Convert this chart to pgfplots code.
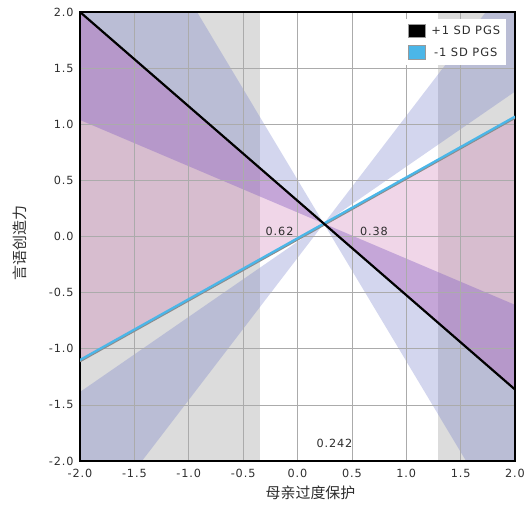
\documentclass[border=0pt]{standalone}
\usepackage{fontspec}
\setmainfont{DejaVu Sans}[LetterSpace=8.0]
\newfontfamily\cjk{Noto Sans CJK SC}
\usepackage{pgfplots}
\pgfplotsset{compat=1.18}
\definecolor{lblue}{RGB}{75,182,232}
\definecolor{lav}{RGB}{110,120,200}
\definecolor{pnk}{RGB}{205,120,180}
\definecolor{pur}{RGB}{150,90,200}
\definecolor{gbg}{RGB}{220,220,220}
\definecolor{txt}{RGB}{45,45,45}
\begin{document}
\begin{tikzpicture}
\begin{axis}[
  set layers,
  scale only axis, width=435bp, height=449bp,
  xmin=-2, xmax=2, ymin=-2, ymax=2,
  xtick={-2,-1.5,-1,-0.5,0,0.5,1,1.5,2},
  ytick={-2,-1.5,-1,-0.5,0,0.5,1,1.5,2},
  grid=major, grid style={draw=black!33, line width=0.6pt},
  axis line style={line width=2.2pt, black},
  major tick length=0pt,
  /pgf/number format/assume math mode=true,
  /pgf/number format/.cd, fixed, fixed zerofill, precision=1, /pgfplots/.cd,
  tick label style={font=\fontsize{11.3}{13}\selectfont, text=txt},
  xticklabel style={yshift=-5bp},
  yticklabel style={xshift=-3bp},
  xlabel={\cjk 母亲过度保护}, ylabel={\cjk 言语创造力},
  xlabel style={at={(axis description cs:0.53,-0.0713)}, anchor=center, font=\fontsize{15}{18}\selectfont, text=txt},
  ylabel style={at={(axis description cs:-0.138,0.486)}, anchor=center, font=\fontsize{15}{18}\selectfont, text=txt},
  legend style={at={(rel axis cs:0.98,0.985)}, anchor=north east, draw=none, fill=white,
    font=\fontsize{11.5}{13}\selectfont, text=txt, row sep=7bp, inner xsep=4bp, inner ysep=5bp},
  legend image code/.code={\path[draw=none, fill=none] (0bp,0bp) -- (21bp,0bp);\draw[#1, draw=black!40, line width=0.6pt] (0bp,-6.5bp) rectangle (17bp,7bp);},
]
% significance regions (gray)
\addplot[forget plot, on layer=axis background, draw=none, fill=gbg] coordinates {(-2,-2) (-0.345,-2) (-0.345,2) (-2,2)} -- cycle;
\addplot[forget plot, on layer=axis background, draw=none, fill=gbg] coordinates {(1.292,-2) (2,-2) (2,2) (1.292,2)} -- cycle;
% lavender wedge B (around +1 SD line)
\addplot[forget plot, on layer=axis background, draw=none, fill=lav, fill opacity=0.3] coordinates {(0.242,0.115) (-0.924,2) (-2,2) (-2,1.038)} -- cycle;
\addplot[forget plot, on layer=axis background, draw=none, fill=lav, fill opacity=0.3] coordinates {(0.242,0.115) (1.55,-2) (2,-2) (2,-0.609)} -- cycle;
% lavender wedge A
\addplot[forget plot, on layer=axis background, draw=none, fill=lav, fill opacity=0.3] coordinates {(0.242,0.115) (-2,-1.385) (-2,-2) (-1.43,-2)} -- cycle;
\addplot[forget plot, on layer=axis background, draw=none, fill=lav, fill opacity=0.3] coordinates {(0.242,0.115) (1.732,2) (2,2) (2,1.291)} -- cycle;
% pink region between the two lines
\addplot[forget plot, on layer=axis background, draw=none, fill=pnk, fill opacity=0.3] coordinates {(0.242,0.115) (-2,2) (-2,-1.10)} -- cycle;
\addplot[forget plot, on layer=axis background, draw=none, fill=pnk, fill opacity=0.3] coordinates {(0.242,0.115) (2,1.068) (2,-1.363)} -- cycle;
% overlap darkening
\addplot[forget plot, on layer=axis background, draw=none, fill=pur, fill opacity=0.2] coordinates {(0.242,0.115) (-2,2) (-2,1.038)} -- cycle;
\addplot[forget plot, on layer=axis background, draw=none, fill=pur, fill opacity=0.2] coordinates {(0.242,0.115) (2,-0.609) (2,-1.363)} -- cycle;
% regression lines
\addplot[forget plot, black!45, line width=2pt] coordinates {(-2,-1.112) (2,1.056)};
\addplot[forget plot, lblue, line width=2.3pt] coordinates {(-2,-1.10) (2,1.068)};
\addplot[forget plot, black, line width=2.2pt] coordinates {(-2,2.0) (2,-1.363)};
\addlegendimage{fill=black}
\addlegendentry{+1 SD PGS}
\addlegendimage{fill=lblue}
\addlegendentry{-1 SD PGS}
\node[font=\fontsize{11.3}{13}\selectfont, text=txt] at (axis cs:-0.165,0.049) {0.62};
\node[font=\fontsize{11.3}{13}\selectfont, text=txt] at (axis cs:0.703,0.049) {0.38};
\node[font=\fontsize{11.3}{13}\selectfont, text=txt] at (axis cs:0.34,-1.84) {0.242};
\end{axis}
\pgfresetboundingbox
\path ([xshift=-80bp,yshift=-56bp]current axis.south west) rectangle ([xshift=14bp,yshift=12bp]current axis.north east);
\end{tikzpicture}
\end{document}
